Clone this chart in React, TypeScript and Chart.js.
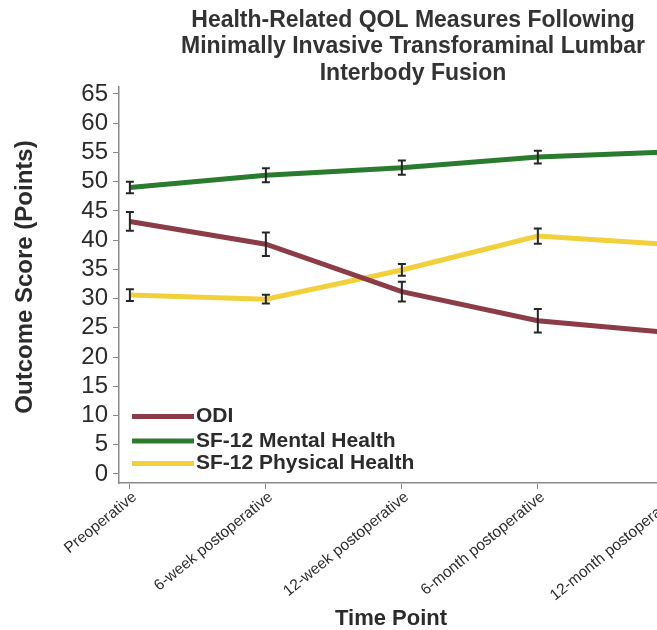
import React, { useEffect, useRef } from 'react';
import { Chart, registerables } from 'chart.js';

Chart.register(...registerables);

const TITLE_LINES = [
  'Health-Related QOL Measures Following',
  'Minimally Invasive Transforaminal Lumbar',
  'Interbody Fusion',
];
const Y_TITLE = 'Outcome Score (Points)';
const X_TITLE = 'Time Point';

const categories = [
  'Preoperative',
  '6-week postoperative',
  '12-week postoperative',
  '6-month postoperative',
  '12-month postoperative',
];
const yTicks = [0, 5, 10, 15, 20, 25, 30, 35, 40, 45, 50, 55, 60, 65];

const seriesNames = ['ODI', 'SF-12 Mental Health', 'SF-12 Physical Health'];
const seriesColors = ['#8b3c47', '#2b7b2f', '#f2d03b'];

const odi = [43.2, 39.3, 31.2, 26.2, 24.1];
const odiErr = [1.6, 2.0, 1.7, 2.0, 1.8];
const mental = [49.0, 51.1, 52.4, 54.2, 55.1];
const mentalErr = [1.0, 1.2, 1.2, 1.1, 1.1];
const physical = [30.6, 29.9, 34.9, 40.7, 39.2];
const physicalErr = [1.0, 0.75, 1.0, 1.3, 1.3];

const seriesValues = [odi, mental, physical];
const seriesErrors = [odiErr, mentalErr, physicalErr];

const FONT = '"Liberation Sans", Arial, Helvetica, sans-serif';
const TEXT = '#2b2b2b';
const AXIS = '#8a8a8a';

const errorBarPlugin = {
  id: 'errorBars',
  afterDatasetsDraw(chart: any) {
    const { ctx, scales } = chart;
    const xs = scales.x;
    const ys = scales.y;
    ctx.save();
    ctx.strokeStyle = '#262626';
    ctx.lineWidth = 2;
    seriesValues.forEach((vals, d) => {
      vals.forEach((v, i) => {
        const e = seriesErrors[d][i];
        const x = xs.getPixelForValue(i);
        const yTop = ys.getPixelForValue(v + e);
        const yBot = ys.getPixelForValue(v - e);
        ctx.beginPath();
        ctx.moveTo(x, yTop);
        ctx.lineTo(x, yBot);
        ctx.moveTo(x - 4, yTop);
        ctx.lineTo(x + 4, yTop);
        ctx.moveTo(x - 4, yBot);
        ctx.lineTo(x + 4, yBot);
        ctx.stroke();
      });
    });
    ctx.restore();
  },
};

const labelsPlugin = {
  id: 'innerLegendAndTitles',
  afterDraw(chart: any) {
    const { ctx } = chart;
    ctx.save();
    const rows = [416.5, 441, 463.5];
    seriesNames.forEach((name, i) => {
      const y = rows[i];
      ctx.strokeStyle = seriesColors[i];
      ctx.lineWidth = 5;
      ctx.beginPath();
      ctx.moveTo(132, y);
      ctx.lineTo(194, y);
      ctx.stroke();
      ctx.fillStyle = TEXT;
      ctx.font = `bold 21px ${FONT}`;
      ctx.textAlign = 'left';
      ctx.textBaseline = 'middle';
      ctx.fillText(name, 196, y);
    });
    // x-axis title
    ctx.fillStyle = TEXT;
    ctx.font = `bold 22px ${FONT}`;
    ctx.textAlign = 'center';
    ctx.textBaseline = 'middle';
    ctx.fillText(X_TITLE, 391, 619);
    // y-axis title
    ctx.translate(25, 277);
    ctx.rotate(-Math.PI / 2);
    ctx.font = `bold 24px ${FONT}`;
    ctx.fillText(Y_TITLE, 0, 0);
    ctx.restore();
  },
};

export default function App() {
  const ref = useRef<HTMLCanvasElement | null>(null);

  useEffect(() => {
    if (!ref.current) return;
    const chart = new Chart(ref.current, {
      type: 'line',
      data: {
        datasets: seriesNames.map((name, d) => ({
          label: name,
          data: seriesValues[d].map((v, i) => ({ x: i, y: v })),
          borderColor: seriesColors[d],
          backgroundColor: seriesColors[d],
          borderWidth: 5,
          pointRadius: 0,
          tension: 0,
          fill: false,
        })),
      },
      options: {
        animation: false,
        responsive: false,
        layout: { padding: 0 },
        plugins: {
          legend: { display: false },
          tooltip: { enabled: false },
          title: {
            display: true,
            text: TITLE_LINES,
            color: '#333333',
            font: { family: FONT, size: 23, weight: 'bold', lineHeight: 1.152 },
            padding: { top: 7, bottom: 0 },
          },
        },
        scales: {
          x: {
            type: 'linear',
            min: -0.08,
            max: 5.119,
            afterFit(scale: any) {
              scale.height = 147;
            },
            afterBuildTicks(scale: any) {
              scale.ticks = categories.map((_, i) => ({ value: i }));
            },
            ticks: {
              autoSkip: false,
              minRotation: 39,
              maxRotation: 39,
              padding: -1,
              labelOffset: 5,
              color: TEXT,
              font: { family: FONT, size: 15.5 },
              callback: (v: any) => categories[v as number] ?? '',
            },
            grid: {
              drawOnChartArea: false,
              drawTicks: true,
              tickLength: 6,
              color: AXIS,
            },
            border: { display: true, color: AXIS, width: 1.5 },
            title: { display: false },
          },
          y: {
            type: 'linear',
            min: -1.54,
            max: 66.28,
            afterFit(scale: any) {
              scale.width = 119;
            },
            afterBuildTicks(scale: any) {
              scale.ticks = yTicks.map((v) => ({ value: v }));
            },
            ticks: {
              autoSkip: false,
              padding: 5,
              color: TEXT,
              font: { family: FONT, size: 24 },
            },
            grid: {
              drawOnChartArea: false,
              drawTicks: true,
              tickLength: 6,
              color: AXIS,
            },
            border: { display: true, color: AXIS, width: 1.5 },
            title: { display: false },
          },
        },
      },
      plugins: [errorBarPlugin, labelsPlugin],
    });
    return () => chart.destroy();
  }, []);

  return (
    <div
      style={{
        position: 'fixed',
        left: 0,
        top: 0,
        width: 657,
        height: 630,
        overflow: 'hidden',
        background: '#ffffff',
      }}
    >
      <canvas ref={ref} width={826} height={630} style={{ display: 'block' }} />
    </div>
  );
}
